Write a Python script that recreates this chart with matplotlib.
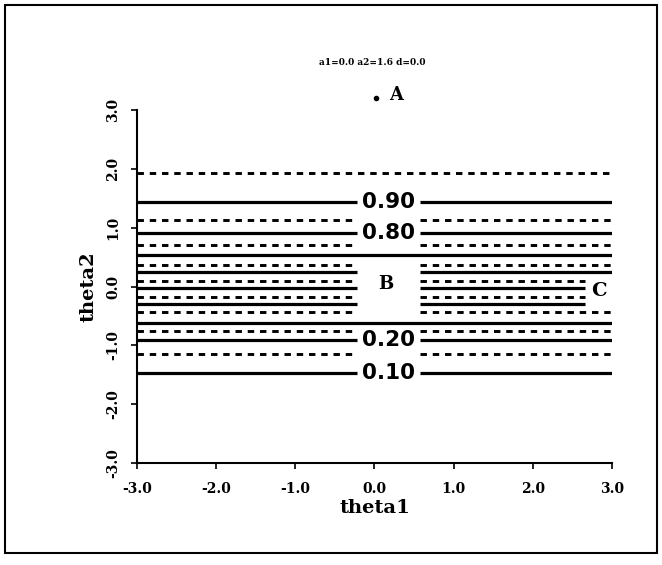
import matplotlib
matplotlib.use("Agg")
import matplotlib.pyplot as plt
from matplotlib.patches import Rectangle

# contour levels and the theta2 value where each (flat) contour sits
levels = [0.10, 0.15, 0.20, 0.25, 0.30, 0.35, 0.40, 0.45, 0.50,
          0.55, 0.60, 0.65, 0.70, 0.75, 0.80, 0.85, 0.90, 0.95]
theta2_pos = [-1.47, -1.15, -0.91, -0.75, -0.62, -0.44, -0.29, -0.17, -0.03,
              0.10, 0.24, 0.36, 0.53, 0.70, 0.91, 1.13, 1.44, 1.93]
labeled = [0.10, 0.20, 0.80, 0.90]
full_width = [0.30, 0.70, 0.95]
stop_at_c = [0.40, 0.45, 0.50, 0.55]

ticks = [-3.0, -2.0, -1.0, 0.0, 1.0, 2.0, 3.0]
tick_labels = ["-3.0", "-2.0", "-1.0", "0.0", "1.0", "2.0", "3.0"]

serif = "DejaVu Serif"

fig = plt.figure(figsize=(6.62, 5.65), dpi=100)
ax = fig.add_axes([0.2069, 0.1805, 0.7175, 0.6248])
ax.set_xlim(-3, 3)
ax.set_ylim(-3, 3)

# gaps left for the labels (B column and C marker)
gap_lo, gap_hi = -0.22, 0.575
c_stop = 2.66

for lev, y in zip(levels, theta2_pos):
    solid = round(lev * 100) % 10 == 0
    ls = "-" if solid else (0, (2.2, 2.0))
    lw = 2.3 if solid else 2.1
    kw = dict(colors="black", linestyles=ls, linewidth=lw)
    if lev in full_width:
        ax.hlines(y, -3, 3, **kw)
        continue
    right_end = c_stop if lev in stop_at_c else 3
    ax.hlines(y, -3, gap_lo, **kw)
    ax.hlines(y, gap_hi, right_end, **kw)
    if lev in labeled:
        ax.text((gap_lo + gap_hi) / 2, y, f"{lev:.2f}", ha="center", va="center",
                fontsize=15.5, family="DejaVu Sans", fontweight="bold")

ax.text(0.27, 3.26, "A", fontsize=13, family=serif, fontweight="bold",
        ha="center", va="center", clip_on=False)
ax.plot([0.02], [3.2], "ko", markersize=3, clip_on=False)
ax.text(0.14, 0.05, "B", fontsize=13, family=serif, fontweight="bold",
        ha="center", va="center")
ax.text(2.83, -0.07, "C", fontsize=14, family=serif, fontweight="bold",
        ha="center", va="center")

ax.spines["top"].set_visible(False)
ax.spines["right"].set_visible(False)
ax.spines["left"].set_linewidth(1.5)
ax.spines["bottom"].set_linewidth(1.5)

ax.set_xticks(ticks)
ax.set_xticklabels(tick_labels, family=serif, fontweight="bold", fontsize=10)
ax.set_yticks(ticks)
ax.set_yticklabels(tick_labels, family=serif, fontweight="bold", fontsize=10,
                   rotation=90, va="center")
ax.tick_params(axis="both", direction="out", length=4, width=1.2)
ax.tick_params(axis="y", pad=8)
ax.tick_params(axis="x", pad=10)

ax.set_xlabel("theta1", family=serif, fontweight="bold", fontsize=14, labelpad=2)
ax.set_ylabel("theta2", family=serif, fontweight="bold", fontsize=14, labelpad=6)

fig.text(0.562, 0.89, "a1=0.0 a2=1.6 d=0.0", ha="center", va="center",
         family=serif, fontweight="bold", fontsize=6.5)

# outer frame of the scanned page
fig.patches.append(Rectangle((0.008, 0.021), 0.984, 0.971, transform=fig.transFigure,
                             fill=False, edgecolor="black", linewidth=1.5))

fig.savefig("out.png", dpi=100, facecolor="white")
